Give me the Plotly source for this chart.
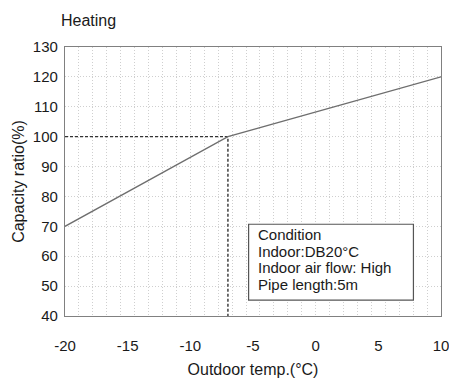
import plotly.graph_objects as go

# Heating capacity curve: outdoor temperature (°C) vs capacity ratio (%)
outdoor_temp = [-20, -7, 10]
capacity_ratio = [70, 100, 120]

# Reference point where the ratio reaches 100 %
ref_temp = -7
ref_ratio = 100

x_ticks = [-20, -15, -10, -5, 0, 5, 10]
y_ticks = [40, 50, 60, 70, 80, 90, 100, 110, 120, 130]

condition_lines = [
    "Condition",
    "Indoor:DB20°C",
    "Indoor air flow: High",
    "Pipe length:5m",
]

FONT = "Liberation Sans, Arial, sans-serif"
TEXT = "#1a1a1a"
AXIS = "#808080"
GRID = "#cfcfcf"

fig = go.Figure()

# dashed guides to the 100 % point
fig.add_trace(go.Scatter(
    x=[x_ticks[0], ref_temp, ref_temp],
    y=[ref_ratio, ref_ratio, y_ticks[0]],
    mode="lines",
    line=dict(color="#333333", width=1.4, dash="3px,2px"),
    hoverinfo="skip",
))

fig.add_trace(go.Scatter(
    x=outdoor_temp,
    y=capacity_ratio,
    mode="lines",
    line=dict(color="#6e6e6e", width=1.3),
))

# condition box
box_x0, box_x1 = -5.35, 7.8
box_y0, box_y1 = 45.3, 70.7
fig.add_shape(type="rect", xref="x", yref="y",
              x0=box_x0, x1=box_x1, y0=box_y0, y1=box_y1,
              line=dict(color="#555555", width=1.2),
              fillcolor="white", layer="above")
line_y = 67.2
for txt in condition_lines:
    fig.add_annotation(x=box_x0 + 0.55, y=line_y, xref="x", yref="y",
                       text=txt, showarrow=False, xanchor="left",
                       yanchor="middle",
                       font=dict(family=FONT, size=15, color=TEXT))
    line_y -= 5.5

fig.update_layout(
    width=449, height=390,
    margin=dict(l=65, r=8, t=47, b=74, autoexpand=False),
    paper_bgcolor="white", plot_bgcolor="white",
    showlegend=False,
    font=dict(family=FONT, size=15, color=TEXT),
    title=dict(text="Heating", x=61 / 449, xanchor="left", xref="container",
               y=1 - 20 / 390, yanchor="middle", yref="container",
               font=dict(family=FONT, size=16, color=TEXT)),
)

fig.update_xaxes(
    range=[-20, 10], tickvals=x_ticks,
    ticktext=[str(v) for v in x_ticks],
    showgrid=False, zeroline=False, automargin=False,
    showline=True, mirror=True, linecolor=AXIS, linewidth=1.3,
    ticks="outside", ticklen=16, tickcolor="rgba(0,0,0,0)",
    ticklabeloverflow="allow",
    tickfont=dict(family=FONT, size=15, color=TEXT),
    minor=dict(tick0=-20, dtick=30 / 27, showgrid=True, gridcolor=GRID,
               griddash="1px,2px", gridwidth=1),
    title=dict(text="Outdoor temp.(°C)", standoff=10,
               font=dict(family=FONT, size=16, color=TEXT)),
)

fig.update_yaxes(
    range=[40, 130], tickvals=y_ticks,
    showgrid=True, gridcolor=GRID, griddash="1px,2px", gridwidth=1,
    zeroline=False, automargin=False,
    showline=True, mirror=True, linecolor=AXIS, linewidth=1.3,
    ticks="outside", ticklen=3, tickcolor="rgba(0,0,0,0)",
    tickfont=dict(family=FONT, size=15, color=TEXT),
    title=dict(text="Capacity ratio(%)", standoff=4,
               font=dict(family=FONT, size=16, color=TEXT)),
)

fig.write_html("out.html")
